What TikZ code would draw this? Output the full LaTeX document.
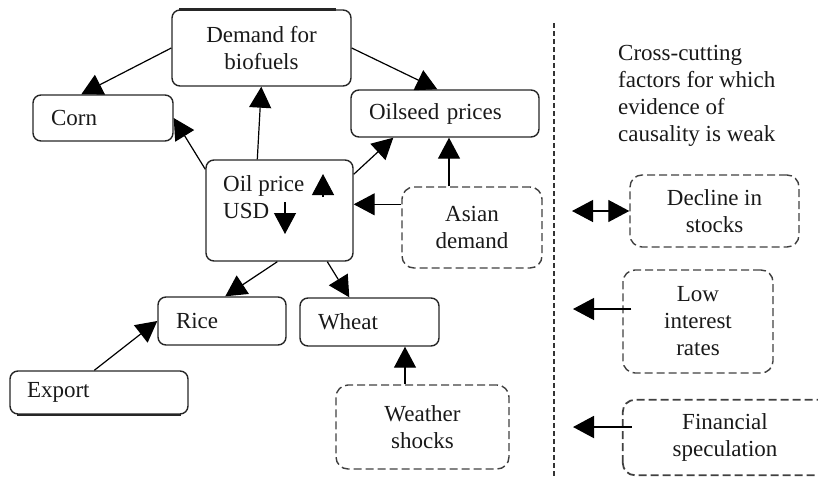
\documentclass[tikz,border=0pt]{standalone}
\usepackage{fontspec}
\setmainfont{Liberation Serif}
\usetikzlibrary{arrows.meta}
\begin{document}
\begin{tikzpicture}[x=1pt,y=-1pt,
  every node/.style={font=\fontsize{23}{27}\selectfont, text=black!90},
  solidbox/.style={draw=black!85, line width=1.4pt, rounded corners=8pt,
    minimum width=#1, inner sep=0pt},
  leftbox/.style={solidbox=#1, inner xsep=18pt, text width=#1-36pt, align=left},
  dashframe/.style={draw=black!75, line width=1.4pt, dash pattern=on 8pt off 4pt,
    rounded corners=12pt},
  dashbox/.style={dashframe, minimum width=#1, inner sep=0pt, align=center},
  link/.style={line width=1.2pt, -{Triangle[length=21pt,width=22pt]}},
  links/.style={line width=1.2pt, {Triangle[length=21pt,width=22pt]}-{Triangle[length=21pt,width=22pt]}}
]
\useasboundingbox (0,0) rectangle (818,477);
\clip (0,0) rectangle (818,477);

% main causal chain
\node[solidbox=179pt, minimum height=76pt, align=center] (demand) at (261.5,48) {Demand for\\biofuels};
\node[leftbox=140pt, minimum height=46pt] (corn) at (103,118) {Corn};
\node[leftbox=188pt, minimum height=47pt] (oilseed) at (445,113.5) {Oilseed prices};
\node[solidbox=147pt, minimum height=101pt] (oil) at (279.5,210.5) {};
\node[anchor=west, align=left, inner sep=0pt] (oiltxt) at (223,197) {Oil price\\USD};
\node[leftbox=128pt, minimum height=48pt] (rice) at (222,321) {Rice};
\node[leftbox=139pt, minimum height=48pt] (wheat) at (369.5,322) {Wheat};
\node[solidbox=178pt, minimum height=43pt, inner xsep=17pt, text width=144pt, align=left] (export) at (99,392.5) {Export};
\draw[black!85, line width=2.6pt] ([xshift=8pt]demand.north west) -- ([xshift=-16pt]demand.north east);
\draw[black!85, line width=2.4pt] ([xshift=8pt]export.south west) -- ([xshift=-8pt]export.south east);

% dashed driver boxes
\node[dashbox=140pt, minimum height=81pt] (asian) at (472,227.5) {Asian\\demand};
\node[dashbox=173pt, minimum height=84pt] (weather) at (422.5,427) {Weather\\shocks};

% oil price / dollar direction marks
\coordinate (upA) at ([xshift=43.5pt,yshift=13.5pt]oil.center);
\coordinate (upB) at ([xshift=43.5pt,yshift=36.5pt]oil.center);
\coordinate (dnA) at ([xshift=5.5pt,yshift=8.5pt]oil.center);
\coordinate (dnB) at ([xshift=5.5pt,yshift=-23.5pt]oil.center);
\draw[link] (upA) -- (upB);
\draw[link] (dnA) -- (dnB);

% connectors
\draw[link] (demand.west) -- ([xshift=49pt]corn.north west);
\draw[link] (demand.east) -- ([xshift=87pt]oilseed.north west);
\draw[link] ([xshift=52pt]oil.north west) -- ([xshift=90pt]demand.south west);
\draw[link] ([yshift=-10pt]oil.north west) -- (corn.east);
\draw[link] ([yshift=-15pt]oil.north east) -- ([xshift=43pt]oilseed.south west);
\path ([yshift=-18pt]asian.north west) coordinate (asianW);
\draw[link] (asianW) -- (asianW -| oil.east);
\path ([xshift=-23pt]asian.north) coordinate (asianN);
\draw[link] (asianN) -- (asianN |- oilseed.south);
\draw[link] ([xshift=72pt]oil.south west) -- ([xshift=68pt]rice.north west);
\draw[link] ([xshift=122pt]oil.south west) -- ([xshift=50pt]wheat.north west);
\draw[link] ([xshift=85pt]export.north west) -- (rice.west);
\path ([xshift=-17.5pt]weather.north) coordinate (weatherN);
\draw[link] (weatherN) -- (weatherN |- wheat.south);

% separator
\coordinate (sepTop) at (554,23);
\coordinate (sepBot) at (554,477);
\draw[black!80, line width=1.3pt, dash pattern=on 5pt off 3pt] (sepTop) -- (sepBot);

% cross-cutting factors
\node[anchor=north west, align=left, inner sep=0pt] (crosstxt) at (618,45)
  {Cross-cutting\\factors for which\\evidence of\\causality is weak};
\node[dashbox=169pt, minimum height=72pt] (decline) at (714.5,211) {Decline in\\stocks};
\node[dashbox=150pt, minimum height=103pt] (low) at (698,321.5) {Low\\interest\\rates};
\node[minimum width=204pt, minimum height=75pt, inner sep=0pt, align=center] (fin) at (725,437.5) {Financial\\speculation};
% this frame runs on past the right edge
\draw[dashframe, line width=1.8pt] (fin.south west) rectangle ([xshift=40pt]fin.north east);

\coordinate (declineEnd) at (572,211);
\coordinate (lowEnd) at (573,309);
\coordinate (finEnd) at (573,427);
\draw[links] (declineEnd) -- (decline.west);
\draw[link] ([xshift=9pt,yshift=12.5pt]low.west) -- (lowEnd);
\draw[link, line width=2pt] ([xshift=9pt,yshift=10.5pt]fin.west) -- (finEnd);
\end{tikzpicture}
\end{document}
